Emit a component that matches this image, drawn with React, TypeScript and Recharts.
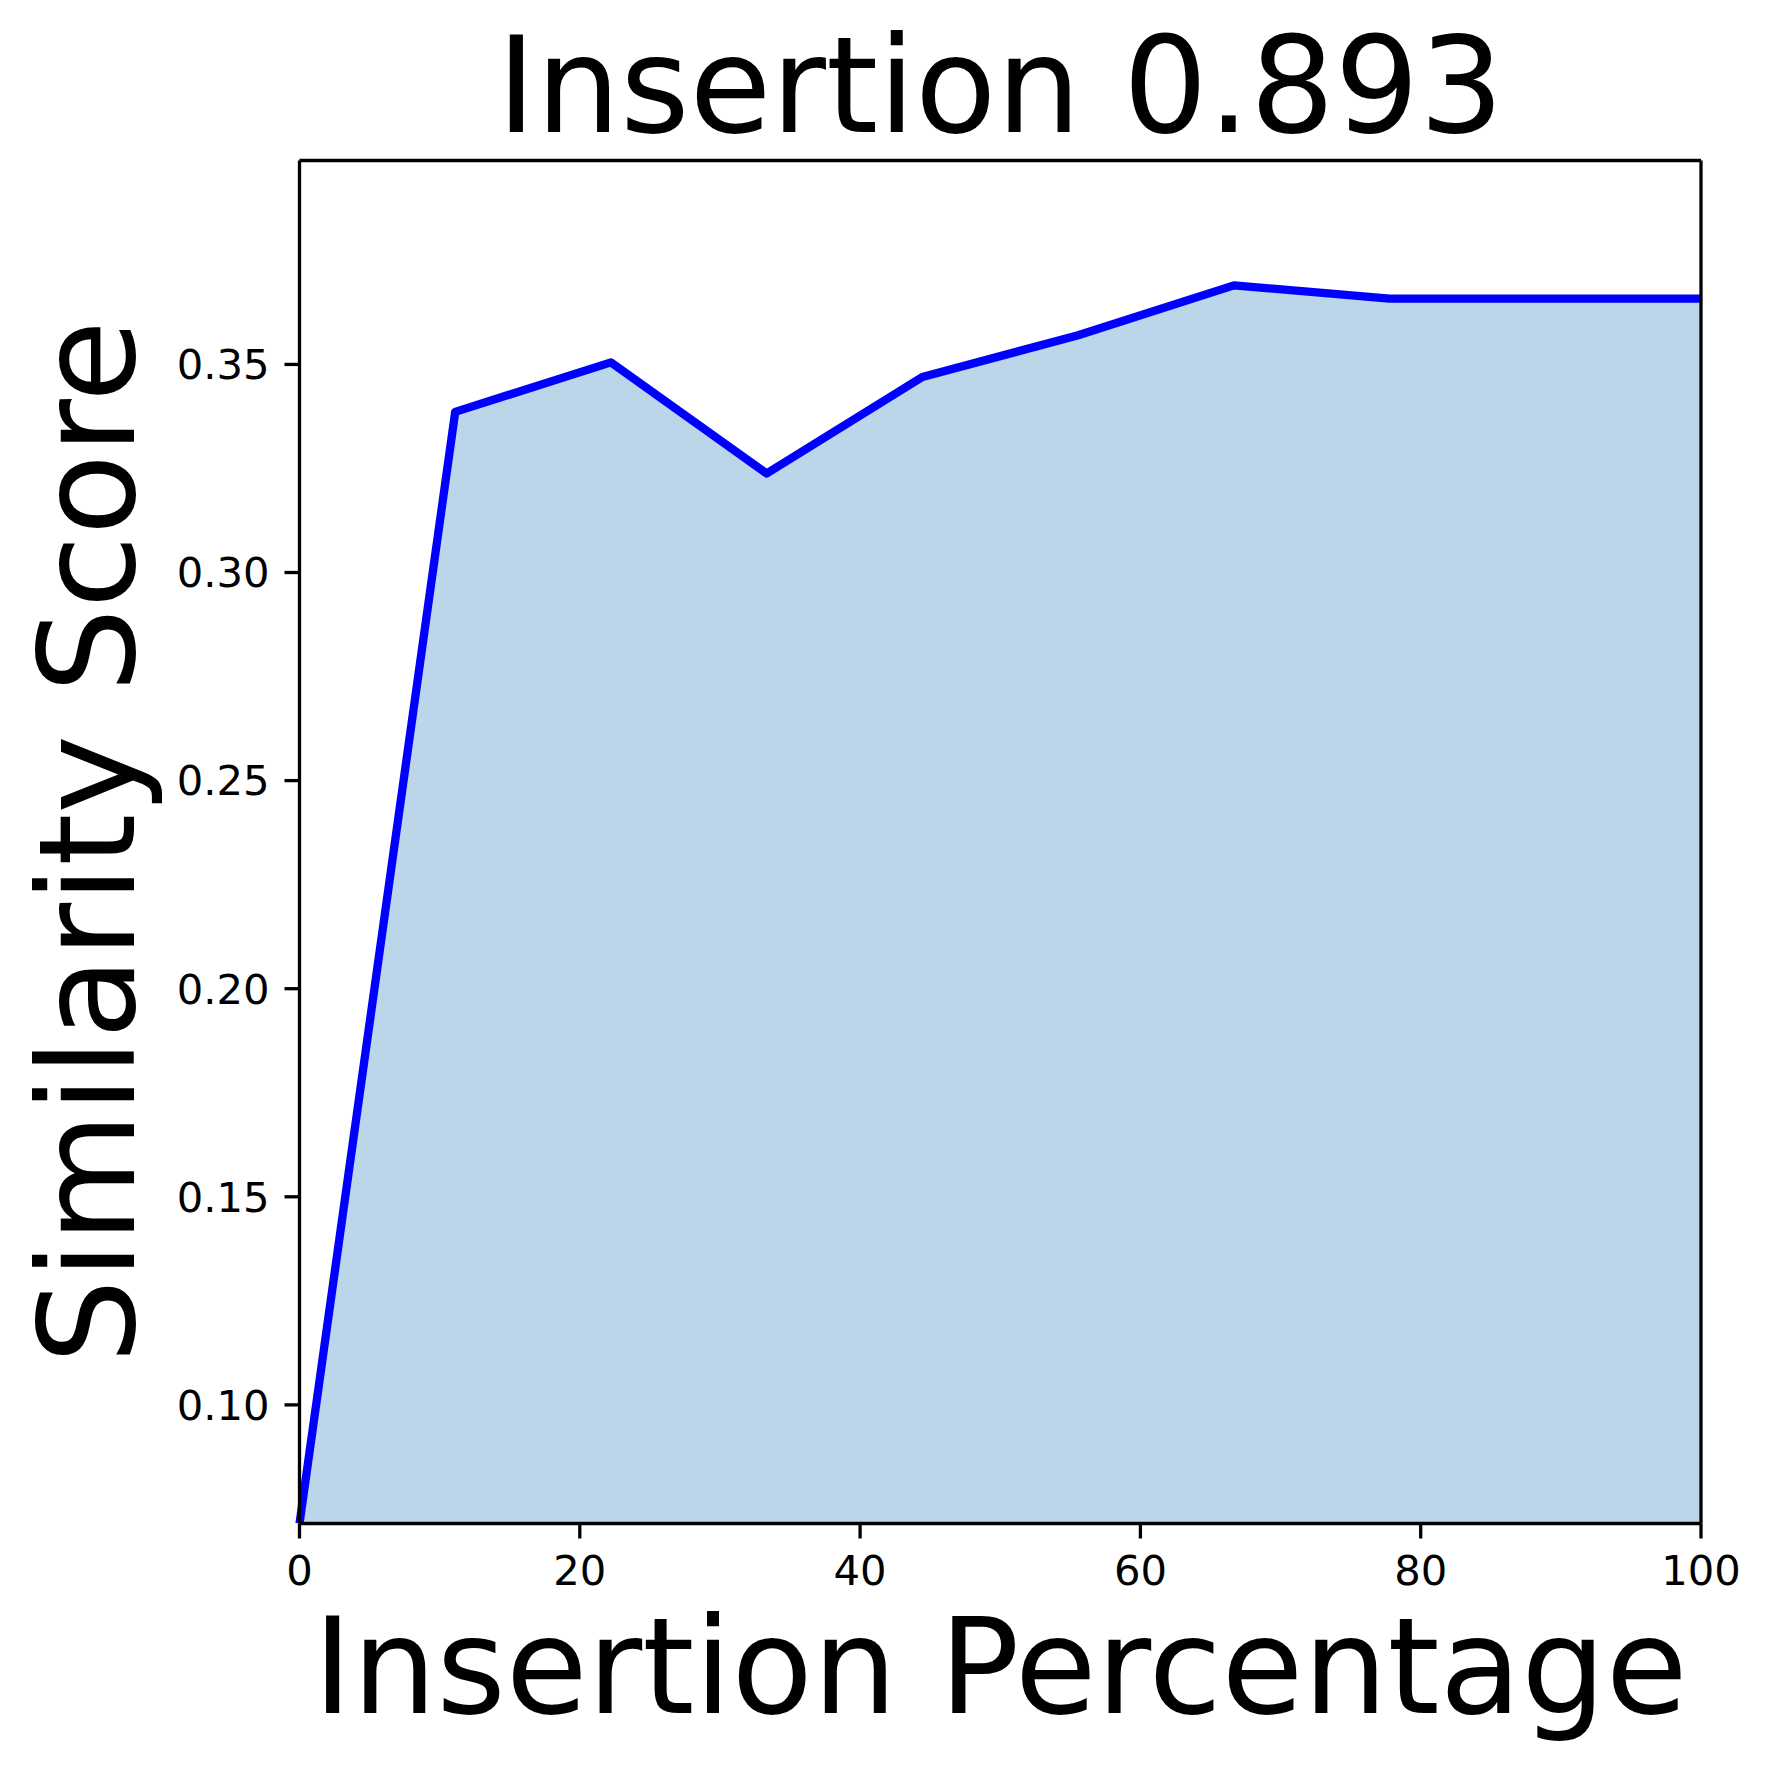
import { AreaChart, Area, XAxis, YAxis, Label, ReferenceLine } from "recharts";

const percentages = [0, 11.11, 22.22, 33.33, 44.44, 55.56, 66.67, 77.78, 88.89, 100];
const scores = [0.0715, 0.3386, 0.3505, 0.3238, 0.347, 0.357, 0.369, 0.3658, 0.3658, 0.3658];
const xTicks = [0, 20, 40, 60, 80, 100];
const yTicks = [0.1, 0.15, 0.2, 0.25, 0.3, 0.35];
const yDomain = [0.0715, 0.399];

const title = "Insertion 0.893";
const xLabel = "Insertion Percentage";
const yLabel = "Similarity Score";

const data = percentages.map((x, i) => ({ x, score: scores[i] }));

const FONT = "DejaVu Sans, sans-serif";
const tickStyle = { fontSize: 41.7, fill: "#000", fontFamily: FONT };
const spine = { stroke: "#000", strokeWidth: 3.3 };

const App = () => {
  return (
    <div style={{ position: "absolute", left: 0, top: 0, background: "#fff" }}>
      <AreaChart
        width={1771}
        height={1772}
        data={data}
        margin={{ top: 160.5, right: 70, bottom: 0, left: 0 }}
      >
        <XAxis
          dataKey="x"
          type="number"
          domain={[0, 100]}
          ticks={xTicks}
          height={248.5}
          axisLine={spine}
          tickLine={spine}
          tickSize={15}
          tickMargin={17}
          tick={tickStyle}
        >
          <Label
            content={(p: any) => {
              const vb = p.viewBox;
              const cx = vb.x + vb.width / 2;
              return (
                <g>
                  <text
                    x={cx}
                    y={vb.y + 189.5}
                    textAnchor="middle"
                    fontSize={133}
                    fontFamily={FONT}
                    fill="#000"
                  >
                    {xLabel}
                  </text>
                  <text
                    x={cx}
                    y={131.7}
                    textAnchor="middle"
                    fontSize={133}
                    fontFamily={FONT}
                    fill="#000"
                  >
                    {title}
                  </text>
                </g>
              );
            }}
          />
        </XAxis>
        <YAxis
          type="number"
          domain={yDomain}
          allowDataOverflow
          ticks={yTicks}
          width={299.5}
          tickFormatter={(v: number) => v.toFixed(2)}
          axisLine={spine}
          tickLine={spine}
          tickSize={15}
          tickMargin={15}
          tick={tickStyle}
        >
          <Label
            content={(p: any) => {
              const vb = p.viewBox;
              const cy = vb.y + vb.height / 2;
              return (
                <text
                  x={134}
                  y={cy}
                  transform={`rotate(-90, 134, ${cy})`}
                  textAnchor="middle"
                  fontSize={133}
                  fontFamily={FONT}
                  fill="#000"
                >
                  {yLabel}
                </text>
              );
            }}
          />
        </YAxis>
        <Area
          type="linear"
          dataKey="score"
          stroke="#0000ff"
          strokeWidth={8.3}
          strokeLinejoin="round"
          fill="#1f77b4"
          fillOpacity={0.3}
          dot={false}
          activeDot={false}
          isAnimationActive={false}
        />
        <ReferenceLine y={yDomain[1]} {...spine} ifOverflow="visible" />
        <ReferenceLine x={100} {...spine} ifOverflow="visible" />
      </AreaChart>
    </div>
  );
};

export default App;
